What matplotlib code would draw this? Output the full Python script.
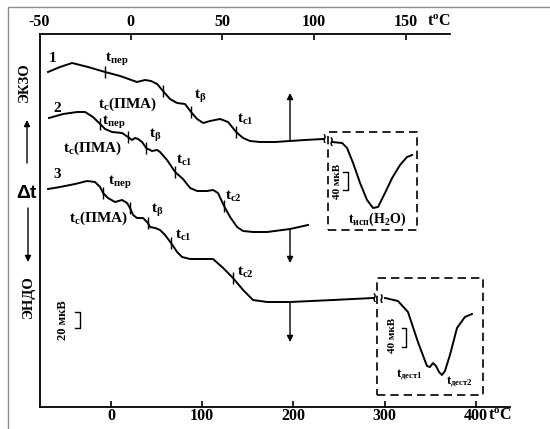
import numpy as np
import matplotlib
matplotlib.use("Agg")
import matplotlib.pyplot as plt
from matplotlib.patches import Rectangle

plt.rcParams["font.family"] = ["Liberation Serif", "DejaVu Serif"]
plt.rcParams["font.weight"] = "bold"
plt.rcParams["mathtext.fontset"] = "custom"
plt.rcParams["mathtext.rm"] = "Liberation Serif:bold"
plt.rcParams["mathtext.it"] = "Liberation Serif:bold"
plt.rcParams["mathtext.bf"] = "Liberation Serif:bold"
plt.rcParams["mathtext.default"] = "rm"

# ---- DTA curves (temperature on the upper scale, °C ; signal in arbitrary units) ----
c1_T = [-45.0, -38.5, -31.9, -23.2, -13.9, -5.7, 3.5, 7.9, 11.2, 14.5, 17.7, 21.5, 25.4,
        29.7, 33.0, 36.3, 39.6, 43.4, 48.8, 53.2, 57.6, 61.4, 65.2, 70.6, 78.8, 87.0, 95.2, 105.0]
c1_S = [335, 340, 344, 340, 335, 331, 325, 327, 326, 323, 316, 308, 304,
        303, 295, 288, 284, 286, 288, 285, 275, 269, 266, 265, 265, 266, 267, 268]

c2_T = [-44.5, -36.8, -29.2, -24.8, -20.5, -16.6, -13.9, -10.1, -4.6, -1.4, 0.8, 2.5, 4.1,
        6.3, 8.5, 11.7, 14.5, 16.1, 19.9, 24.3, 28.6, 32.5, 36.3, 41.7, 45.0, 47.7, 51.0,
        54.3, 58.1, 61.4, 66.8, 74.5, 87.0, 96.8]
c2_S = [289, 293, 295, 295, 290, 283, 278, 275, 274, 270, 267, 269, 268,
        265, 259, 256, 257, 255, 247, 235, 228, 219, 216, 216, 217, 214, 201,
        190, 180, 176, 175, 175, 178, 182]

c3_T = [-45.0, -38.5, -30.3, -23.7, -19.4, -16.6, -15.0, -12.3, -8.5, -4.6, -1.9, -0.3, 1.4,
        3.5, 6.8, 9.5, 10.6, 13.4, 16.1, 18.8, 22.1, 25.4, 28.1, 32.5, 37.9, 45.0, 50.5,
        55.9, 61.4, 66.8, 74.5, 87.0, 110.5, 132.3]
c3_S = [218, 220, 223, 226, 225, 220, 214, 209, 205, 207, 204, 199, 192,
        189, 189, 184, 180, 179, 177, 172, 164, 155, 150, 148, 148, 148, 139,
        129, 117, 107, 105, 105, 107, 109]

# water evaporation peak (upper scale)
h2o_T = [109.9, 115.4, 118.1, 121.4, 125.2, 129.0, 132.3, 135.0, 138.8, 142.7, 147.0, 150.8, 153.6]
h2o_S = [265, 264, 259, 244, 224, 207, 199, 200, 214, 229, 242, 250, 252]

# destruction peaks (lower scale)
dest_T = [300.3, 314.5, 325.5, 336.4, 343.0, 346.3, 349.6, 352.9, 356.2, 359.5, 362.7,
          366.0, 371.5, 379.2, 387.9, 395.6]
dest_S = [109, 106, 95, 65, 49, 41, 40, 44, 41, 35, 32, 36, 52, 79, 90, 93]

# transition marks on each curve
tick1_T = [-13.9, 17.7, 33.0, 57.6]
tick2_T = [-16.6, -1.4, 8.5, 24.3, 51.0]
tick3_T = [-15.0, -0.3, 9.5, 22.1, 55.9]

# heating-stop arrows
arrow_T = 87.0
arrow_from = [266, 178, 105]
arrow_to = [314, 144, 65]

top_ticks = [0, 50, 100, 150]
bottom_ticks = [0, 100, 200, 300, 400]

# ---------------------------------------------------------------
W, H = 550, 429
fig = plt.figure(figsize=(W / 100, H / 100), dpi=100)
ax = fig.add_axes([40 / W, 22 / H, 470 / W, 373 / H])
ax.set_xlim(-49.4, 207.0)
ax.set_ylim(0, 373)
axb = ax.twiny()
axb.set_xlim(-77.8, 437.3)

for a in (ax, axb):
    a.patch.set_visible(False)
    a.tick_params(left=False, labelleft=False, right=False, labelright=False)
    for s in a.spines.values():
        s.set_visible(False)

ax.spines["left"].set_visible(True)
ax.spines["top"].set_visible(True)
ax.spines["top"].set_bounds(-49.4, 174.3)
axb.spines["bottom"].set_visible(True)
for s in (ax.spines["left"], ax.spines["top"], axb.spines["bottom"]):
    s.set_linewidth(1.3)

tick_fs = 11.5
ax.xaxis.set_ticks_position("top")
ax.set_xticks(top_ticks)
ax.tick_params(axis="x", direction="in", length=4, width=1.2, pad=3, labelsize=tick_fs)
axb.xaxis.set_ticks_position("bottom")
axb.set_xticks(bottom_ticks)
axb.tick_params(axis="x", direction="in", length=4, width=1.2, pad=1, labelsize=tick_fs)
for lab in ax.get_xticklabels() + axb.get_xticklabels():
    lab.set_fontweight("bold")

ax.annotate("-50", xy=(-50, 1), xycoords=("data", "axes fraction"), xytext=(0, 3),
            textcoords="offset points", ha="center", va="bottom", fontsize=tick_fs,
            fontweight="bold", annotation_clip=False)
ax.annotate(r"$\mathrm{t^oC}$", xy=(174.3, 1), xycoords=("data", "axes fraction"),
            xytext=(-8, 3), textcoords="offset points", ha="center", va="bottom",
            fontsize=tick_fs, annotation_clip=False)
axb.annotate(r"$\mathrm{t^oC}$", xy=(437.3, 0), xycoords=("data", "axes fraction"),
             xytext=(-7, -1), textcoords="offset points", ha="center", va="top",
             fontsize=tick_fs, annotation_clip=False)

# curves
lw = 1.4
ax.plot(c1_T, c1_S, color="k", lw=lw)
ax.plot(c2_T, c2_S, color="k", lw=lw)
ax.plot(c3_T, c3_S, color="k", lw=lw)
ax.plot(h2o_T, h2o_S, color="k", lw=lw)
axb.plot(dest_T, dest_S, color="k", lw=lw)

for tt, cT, cS in ((tick1_T, c1_T, c1_S), (tick2_T, c2_T, c2_S), (tick3_T, c3_T, c3_S)):
    ax.plot(tt, np.interp(tt, cT, cS), ls="none", marker="|", ms=8, mew=1.0, color="k")

for f, t in zip(arrow_from, arrow_to):
    ax.annotate("", xy=(arrow_T, t), xytext=(arrow_T, f),
                arrowprops=dict(arrowstyle="-|>", lw=1.0, color="k", mutation_scale=9,
                                shrinkA=0, shrinkB=0))

# break marks
brk = dict(ha="center", va="center", fontsize=10, family="DejaVu Sans", color="k")
ax.text(105.8, 268, "≀", **brk)
ax.text(109.4, 265, "≀", **brk)
ax.text(133.0, 109, "≀", **brk)
axb.text(296.5, 108, "≀", **brk)

# dashed frames of the enlarged peaks
ax.add_patch(Rectangle((107.7, 177), 48.6, 98, fill=False, ls=(0, (5, 3)), lw=1.2, ec="k"))
axb.add_patch(Rectangle((291.5, 12), 116.2, 117, fill=False, ls=(0, (5, 3)), lw=1.2, ec="k"))

# scale bars
def scale_bar(a, x, xl, y0, y1):
    a.plot([xl, x, x, xl], [y1, y1, y0, y0], color="k", lw=1.0)

scale_bar(ax, -27.6, -30.3, 79, 95)
ax.text(-36.8, 87, "20 мкВ", rotation=90, ha="center", va="center", fontsize=9)
scale_bar(ax, 118.7, 116.0, 217, 235)
ax.text(112.7, 226, "40 мкВ", rotation=90, ha="center", va="center", fontsize=8)
scale_bar(axb, 323.3, 318.9, 60, 79)
axb.text(309.0, 72, "40 мкВ", rotation=90, ha="center", va="center", fontsize=8)

# labels
big = 11
lbl = dict(ha="center", va="center", fontsize=big)
tp = r"$\mathrm{t}_{\mathrm{пер}}$"
tb = r"$\mathrm{t}_{\mathrm{β}}$"
tc = r"$\mathrm{t}_{\mathrm{c}}\mathrm{(ПМА)}$"
tc1 = r"$\mathrm{t}_{\mathrm{c1}}$"
tc2 = r"$\mathrm{t}_{\mathrm{c2}}$"

ax.text(-42.3, 348, "1", **lbl)
ax.text(-7.4, 348, tp, **lbl)
ax.text(-1.4, 303, tc, **lbl)
ax.text(37.9, 311, tb, **lbl)
ax.text(62.5, 288, tc1, **lbl)

ax.text(-40.1, 299, "2", **lbl)
ax.text(-9.0, 285, tp, **lbl)
ax.text(13.4, 272, tb, **lbl)
ax.text(-20.5, 259, tc, **lbl)
ax.text(29.2, 247, tc1, **lbl)
ax.text(55.9, 211, tc2, **lbl)

ax.text(-40.1, 232, "3", **lbl)
ax.text(-5.7, 225, tp, **lbl)
ax.text(-17.7, 189, tc, **lbl)
ax.text(14.5, 197, tb, **lbl)
ax.text(28.6, 172, tc1, **lbl)
ax.text(62.5, 135, tc2, **lbl)

ax.text(134.5, 188, r"$\mathrm{t}_{\mathrm{исп}}\mathrm{(H_2O)}$", ha="center", va="center", fontsize=10)
axb.text(326.6, 32, r"$\mathrm{t}_{\mathrm{дест1}}$", ha="center", va="center", fontsize=9)
axb.text(381.4, 25, r"$\mathrm{t}_{\mathrm{дест2}}$", ha="center", va="center", fontsize=9)

# left-hand annotations
fig.text(24 / W, 1 - 82 / H, "ЭКЗО", rotation=90, ha="center", va="center", fontsize=10.5)
fig.text(26 / W, 1 - 193 / H, "Δt", ha="center", va="center", fontsize=14,
         family="Liberation Sans", fontweight="bold")
fig.text(28 / W, 1 - 297 / H, "ЭНДО", rotation=90, ha="center", va="center", fontsize=10.5)
ax.annotate("", xy=(27, H - 120), xytext=(27, H - 163), xycoords="figure pixels",
            textcoords="figure pixels",
            arrowprops=dict(arrowstyle="-|>", lw=1.0, color="k", mutation_scale=9,
                            shrinkA=0, shrinkB=0))
ax.annotate("", xy=(28, H - 262), xytext=(28, H - 208), xycoords="figure pixels",
            textcoords="figure pixels",
            arrowprops=dict(arrowstyle="-|>", lw=1.0, color="k", mutation_scale=9,
                            shrinkA=0, shrinkB=0))

# page frame
fig.add_artist(Rectangle((8 / W, -0.5), 2, 1.5 - 7 / H, transform=fig.transFigure,
                         fill=False, ec="#8c8c8c", lw=1.0))

fig.savefig("out.png", dpi=100)
